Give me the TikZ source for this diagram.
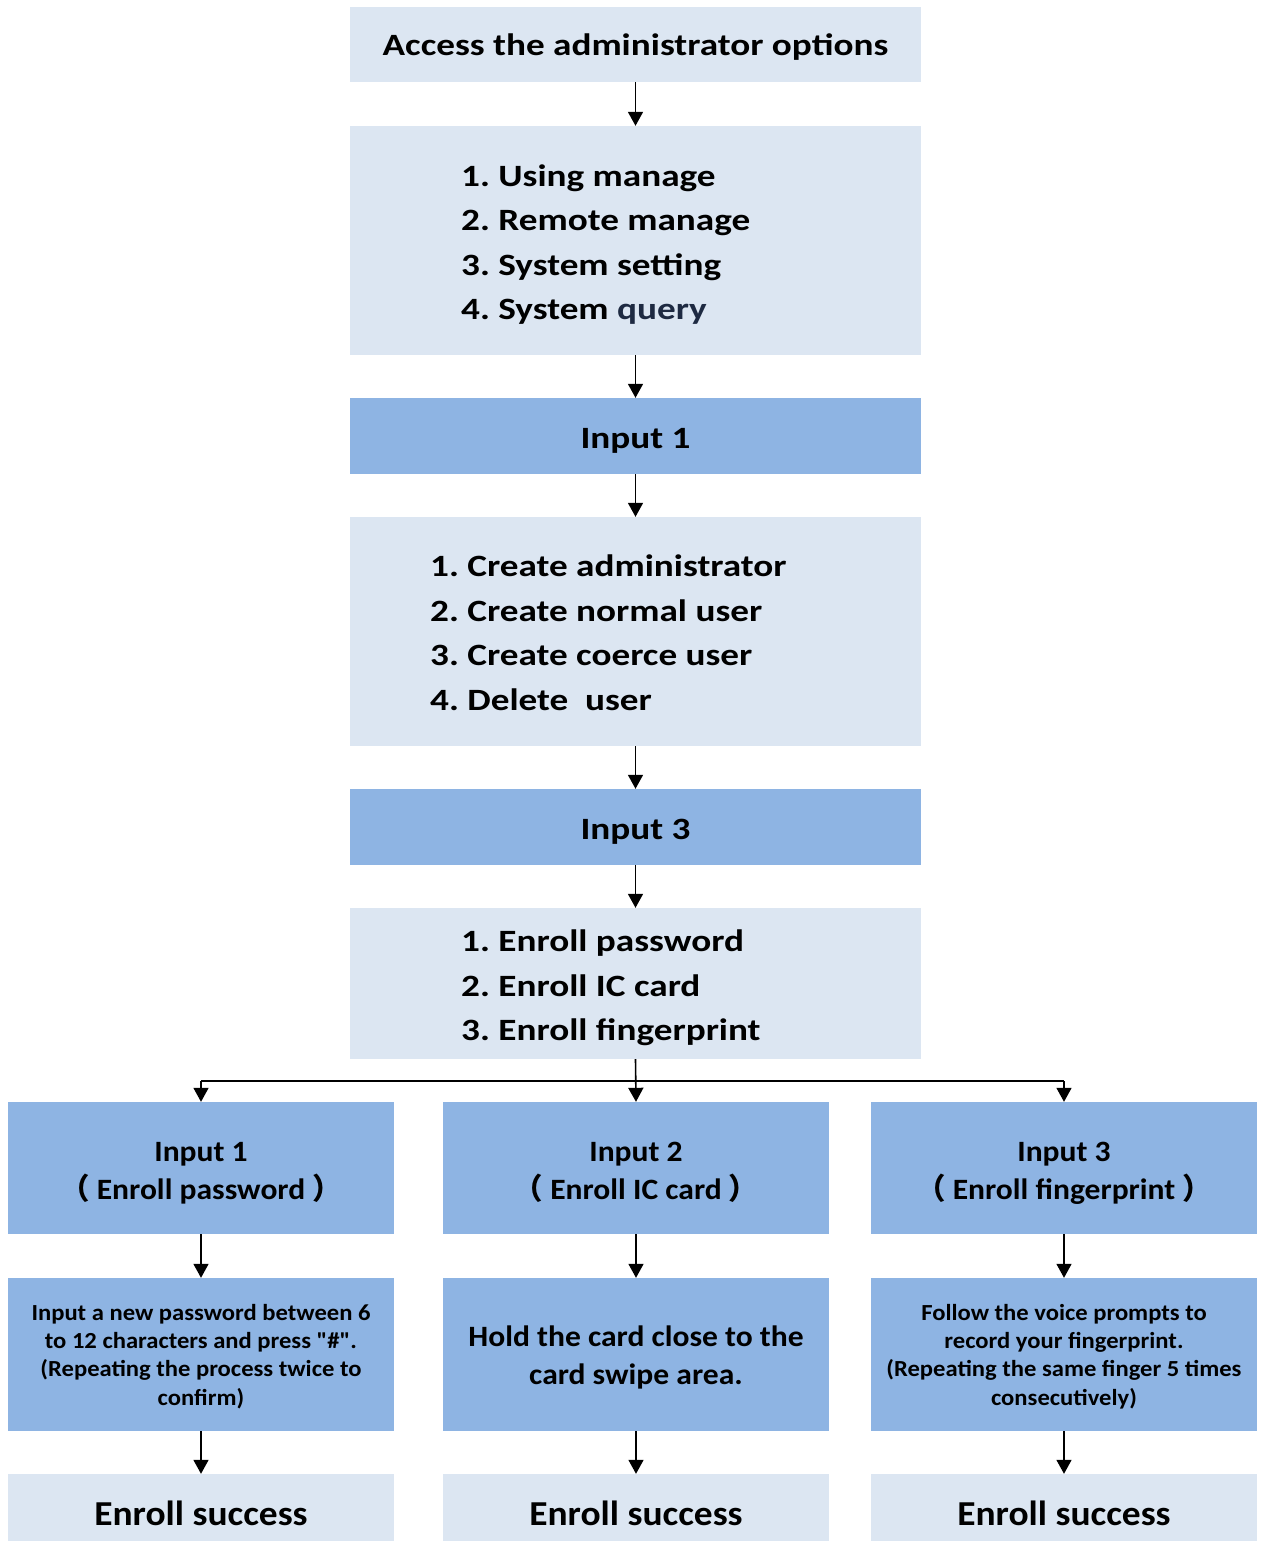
\documentclass[tikz,border=0pt]{standalone}
\usepackage{fontspec}
\setmainfont{Carlito}[Ligatures=TeXOff]
\newfontfamily\mainf{Carlito}[FakeStretch=1.2, Ligatures=TeXOff]
\newfontfamily\botf{Carlito}[FakeStretch=1.07, Ligatures=TeXOff]
\newfontfamily\cjk{Noto Sans CJK SC}
\usetikzlibrary{arrows.meta}
\definecolor{lite}{RGB}{220,230,242}
\definecolor{dark}{RGB}{142,180,227}
\definecolor{navy}{RGB}{30,42,66}
\frenchspacing
\begin{document}
\begin{tikzpicture}[x=1pt,y=-1pt,
  box/.style={draw=none, inner sep=0},
  litebox/.style={box, fill=lite},
  darkbox/.style={box, fill=dark},
  mtxt/.style={inner sep=0, anchor=base west, font=\mainf\bfseries\fontsize{31}{38}\selectfont},
  htxt/.style={inner sep=0, anchor=base, font=\mainf\bfseries\fontsize{31}{38}\selectfont},
  btxt/.style={inner sep=0, anchor=base, font=\botf\bfseries\fontsize{29.5}{36}\selectfont},
  stxt/.style={inner sep=0, anchor=base, font=\botf\bfseries\fontsize{23}{28}\selectfont},
  etxt/.style={inner sep=0, anchor=base, font=\botf\bfseries\fontsize{35}{40}\selectfont},
  arr/.style={line width=1.6pt, -{Triangle[width=15pt,length=14pt]}}]
\useasboundingbox (0,0) rectangle (1263,1542);
\fill[white] (0,0) rectangle (1263,1542);
% main column boxes
\node[litebox, minimum width=571pt, minimum height=75pt] (access) at (635.5,44.5) {};
\node[litebox, minimum width=571pt, minimum height=229pt] (menu1) at (635.5,240.5) {};
\node[darkbox, minimum width=571pt, minimum height=76pt] (in1) at (635.5,436) {};
\node[litebox, minimum width=571pt, minimum height=229pt] (menu2) at (635.5,631.5) {};
\node[darkbox, minimum width=571pt, minimum height=76pt] (in3) at (635.5,827) {};
\node[litebox, minimum width=571pt, minimum height=151pt] (menu3) at (635.5,983.5) {};
% main column texts
\node[htxt] (accesst) at (635.5,55) {Access the administrator options};
\node[mtxt] (m1a) at (461,186) {1. Using manage};
\node[mtxt] (m1b) at (461,230.5) {2. Remote manage};
\node[mtxt] (m1c) at (461,275) {3. System setting};
\node[mtxt] (m1d) at (461,319.5) {4. System \textcolor{navy}{query}};
\node[htxt] (in1t) at (635.5,448) {Input 1};
\node[mtxt] (m2a) at (430,576.5) {1. Create administrator};
\node[mtxt] (m2b) at (430,621) {2. Create normal user};
\node[mtxt] (m2c) at (430,665.5) {3. Create coerce user};
\node[mtxt] (m2d) at (430,710) {4. Delete\ \ user};
\node[htxt] (in3t) at (635.5,839) {Input 3};
\node[mtxt] (m3a) at (461,951.5) {1. Enroll password};
\node[mtxt] (m3b) at (461,996) {2. Enroll IC card};
\node[mtxt] (m3c) at (461,1040.5) {3. Enroll fingerprint};
% bottom boxes
\coordinate (topa) at (201,1081);
\coordinate (topc) at (1064,1081);
\node[darkbox, minimum width=386pt, minimum height=132pt] (pa) at (201,1168) {};
\node[darkbox, minimum width=386pt, minimum height=132pt] (pb) at (636,1168) {};
\node[darkbox, minimum width=386pt, minimum height=132pt] (pc) at (1064,1168) {};
\node[darkbox, minimum width=386pt, minimum height=153pt] (qa) at (201,1354.5) {};
\node[darkbox, minimum width=386pt, minimum height=153pt] (qb) at (636,1354.5) {};
\node[darkbox, minimum width=386pt, minimum height=153pt] (qc) at (1064,1354.5) {};
\node[litebox, minimum width=386pt, minimum height=67pt] (ra) at (201,1507.5) {};
\node[litebox, minimum width=386pt, minimum height=67pt] (rb) at (636,1507.5) {};
\node[litebox, minimum width=386pt, minimum height=67pt] (rc) at (1064,1507.5) {};
% bottom texts
\node[btxt] (pa1) at (201,1161) {Input 1};
\node[btxt] (pa2) at (201,1199) {{\cjk （}\ Enroll password\ {\cjk ）}};
\node[btxt] (pb1) at (636,1161) {Input 2};
\node[btxt] (pb2) at (636,1199) {{\cjk （}\ Enroll IC card\ {\cjk ）}};
\node[btxt] (pc1) at (1064,1161) {Input 3};
\node[btxt] (pc2) at (1064,1199) {{\cjk （}\ Enroll fingerprint\ {\cjk ）}};
\node[stxt] (qa1) at (201,1320) {Input a new password between 6};
\node[stxt] (qa2) at (201,1348.3) {to 12 characters and press "\#".};
\node[stxt] (qa3) at (201,1376.6) {(Repeating the process twice to};
\node[stxt] (qa4) at (201,1405) {confirm)};
\node[btxt] (qb1) at (636,1346.5) {Hold the card close to the};
\node[btxt] (qb2) at (636,1384) {card swipe area.};
\node[stxt] (qc1) at (1064,1320) {Follow the voice prompts to};
\node[stxt] (qc2) at (1064,1348.3) {record your fingerprint.};
\node[stxt] (qc3) at (1064,1376.6) {(Repeating the same finger 5 times};
\node[stxt] (qc4) at (1064,1405) {consecutively)};
\node[etxt] (ra1) at (201,1525) {Enroll success};
\node[etxt] (rb1) at (636,1525) {Enroll success};
\node[etxt] (rc1) at (1064,1525) {Enroll success};
% connectors
\draw[arr] (access) -- (menu1);
\draw[arr] (menu1) -- (in1);
\draw[arr] (in1) -- (menu2);
\draw[arr] (menu2) -- (in3);
\draw[arr] (in3) -- (menu3);
\draw[line width=1.6pt] (topa) -- (topc);
\draw[arr] (menu3.south) -- (pb.north);
\draw[arr] (topa) -- (pa.north);
\draw[arr] (topc) -- (pc.north);
\draw[arr] (pa) -- (qa);
\draw[arr] (pb) -- (qb);
\draw[arr] (pc) -- (qc);
\draw[arr] (qa) -- (ra);
\draw[arr] (qb) -- (rb);
\draw[arr] (qc) -- (rc);
\end{tikzpicture}
\end{document}
